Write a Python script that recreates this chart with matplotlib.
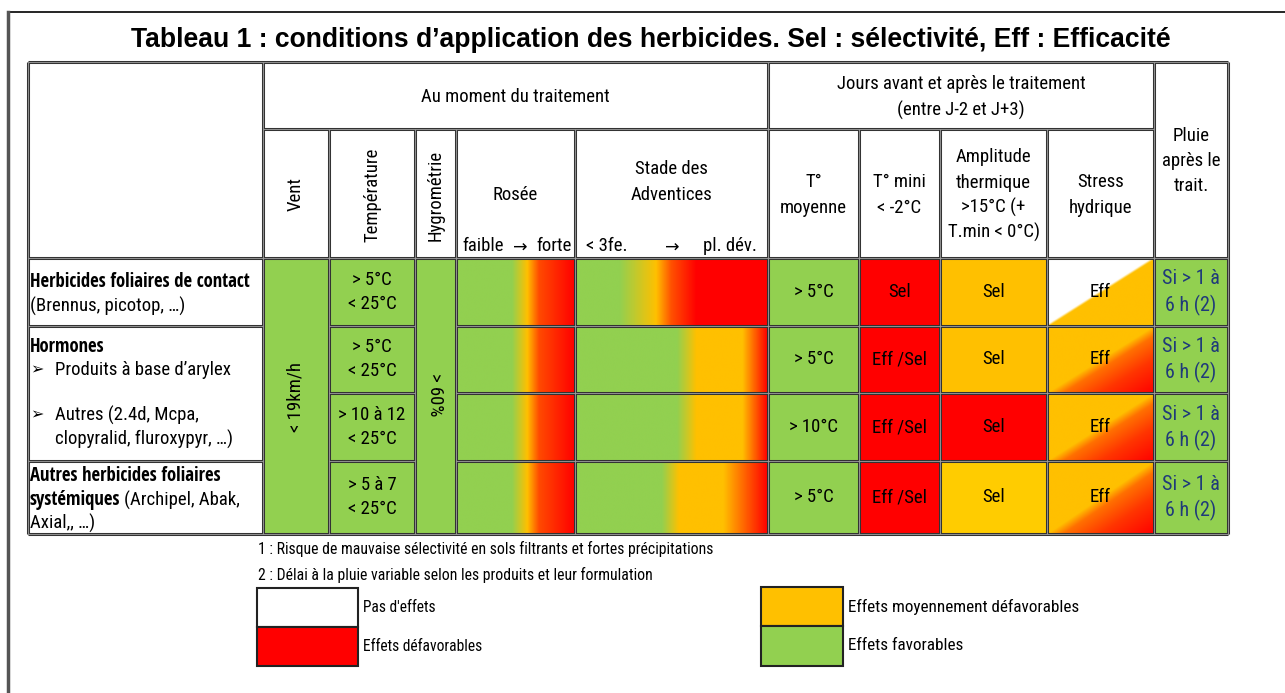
import matplotlib
matplotlib.use('Agg')
import matplotlib.pyplot as plt
import numpy as np
from matplotlib import font_manager
from matplotlib.font_manager import FontProperties
from matplotlib.colors import LinearSegmentedColormap, to_rgb

# police étroite (type Arial Narrow) si on en trouve une
FONTS = font_manager.fontManager.ttflist


def is_bold(f):
    w = f.weight if isinstance(f.weight, int) else {'bold': 700, 'normal': 400, 'regular': 400}.get(f.weight, 400)
    return w >= 600


def narrow_face(bold):
    prefs = ['Liberation Sans Narrow', 'DejaVu Sans Condensed', 'Noto Sans Condensed',
             'Open Sans Condensed', 'Roboto Condensed']
    for p in prefs:
        for f in FONTS:
            if f.name == p and f.style == 'normal' and is_bold(f) == bold:
                return f.fname
    for base in ['DejaVu Sans', 'Noto Sans', 'Liberation Sans', 'Open Sans', 'Roboto']:
        for f in FONTS:
            if f.name == base and f.style == 'normal' and f.stretch in ('condensed', 'semi-condensed') \
                    and is_bold(f) == bold:
                return f.fname
    return None


reg_file, bold_file = narrow_face(False), narrow_face(True)
if reg_file and bold_file:
    REG = FontProperties(fname=reg_file)
    BOLD = FontProperties(fname=bold_file)
    FS = 13.5
else:
    REG = FontProperties(family='Liberation Sans')
    BOLD = FontProperties(family='Liberation Sans', weight='bold')
    FS = 11.5

GREEN = '#92D050'
ORANGE = '#FFC000'
RED = '#FF0000'
GOLD = '#FFCC00'
BLUE_TXT = '#1F3A7A'

# --- données du tableau ---
title = "Tableau 1 : conditions d\u2019application des herbicides. Sel : sélectivité, Eff : Efficacité"
temperature = ['> 5°C\n< 25°C', '> 5°C\n< 25°C', '> 10 à 12\n< 25°C', '> 5 à 7\n< 25°C']
t_moyenne = ['> 5°C', '> 5°C', '> 10°C', '> 5°C']
t_mini_txt = ['Sel', 'Eff /Sel', 'Eff /Sel', 'Eff /Sel']
t_mini_col = [RED, RED, RED, RED]
amplitude_txt = ['Sel', 'Sel', 'Sel', 'Sel']
amplitude_col = [ORANGE, ORANGE, RED, GOLD]
stress_txt = ['Eff', 'Eff', 'Eff', 'Eff']
stress_top = ['white', ORANGE, ORANGE, ORANGE]
stress_bottom = ['flat', 'grad', 'grad', 'grad']
pluie_txt = ['Si > 1 à\n6 h (2)'] * 4
vent_txt = '< 19km/h'
hygro_txt = '> 60%'

# dégradés (position relative, couleur)
rosee_stops = [[(0, GREEN), (0.47, GREEN), (0.60, ORANGE), (0.70, '#FF4A00'), (1, RED)]] * 4
stade_stops = [
    [(0, GREEN), (0.23, GREEN), (0.42, ORANGE), (0.50, '#FF5000'), (0.63, RED), (1, RED)],
    [(0, GREEN), (0.53, GREEN), (0.63, ORANGE), (0.87, ORANGE), (1, RED)],
    [(0, GREEN), (0.53, GREEN), (0.63, ORANGE), (0.87, ORANGE), (1, RED)],
    [(0, GREEN), (0.45, GREEN), (0.54, ORANGE), (0.77, ORANGE), (1, RED)],
]

legend_items = [('white', "Pas d'effets"), (RED, 'Effets défavorables'),
                (ORANGE, 'Effets moyennement défavorables'), (GREEN, 'Effets favorables')]
notes = ['1 : Risque de mauvaise sélectivité en sols filtrants et fortes précipitations',
         '2 : Délai à la pluie variable selon les produits et leur formulation']

# --- géométrie (pixels) ---
cols = [28, 263, 329, 415, 456, 575, 768, 859, 940, 1047, 1154, 1228]
rows = [62, 129, 258, 326, 393, 461, 534]

fig = plt.figure(figsize=(12.85, 6.93), dpi=100)
ax = fig.add_axes([0, 0, 1, 1])
ax.set_xlim(0, 1285)
ax.set_ylim(693, 0)
ax.set_autoscale_on(False)
ax.axis('off')


def T(x, y, s, bold=False, size=None, **kw):
    fp = (BOLD if bold else REG).copy()
    fp.set_size(size or FS)
    kw.setdefault('va', 'center')
    kw.setdefault('zorder', 6)
    return ax.text(x, y, s, fontproperties=fp, **kw)


def rect(x0, y0, x1, y1, color):
    ax.add_patch(plt.Rectangle((x0, y0), x1 - x0, y1 - y0, facecolor=color, edgecolor='none', zorder=1))


def grad_cell(x0, y0, x1, y1, stops):
    cmap = LinearSegmentedColormap.from_list('g', stops)
    g = np.linspace(0, 1, 400)[None, :]
    ax.imshow(g, extent=(x0, x1, y1, y0), cmap=cmap, aspect='auto', interpolation='bilinear', zorder=1)


def diag_cell(x0, y0, x1, y1, top, bottom):
    h, w = 200, 300
    u = np.linspace(0, 1, w)[None, :]
    v = np.linspace(0, 1, h)[:, None]
    s = u + v - 1  # >0 sous la diagonale
    top_rgb = np.array(to_rgb(top))
    if bottom == 'flat':
        bot = np.broadcast_to(np.array(to_rgb(ORANGE)), (h, w, 3))
    else:
        cm = LinearSegmentedColormap.from_list('d', [(0, ORANGE), (0.15, '#FF7000'), (0.5, '#FF3500'), (1, RED)])
        bot = cm(np.clip(s, 0, 1))[..., :3]
    a = np.clip(s / 0.04 + 0.5, 0, 1)[..., None]
    img = top_rgb * (1 - a) + bot * a
    ax.imshow(img, extent=(x0, x1, y1, y0), aspect='auto', interpolation='bilinear', zorder=1)


def hline(y, x0, x1):
    ax.plot([x0, x1], [y, y], color='#333333', lw=2.2, zorder=3, solid_capstyle='butt')
    ax.plot([x0, x1], [y, y], color='#a0a0a0', lw=0.6, zorder=4, solid_capstyle='butt')


def vline(x, y0, y1):
    ax.plot([x, x], [y0, y1], color='#333333', lw=2.2, zorder=3, solid_capstyle='butt')
    ax.plot([x, x], [y0, y1], color='#a0a0a0', lw=0.6, zorder=4, solid_capstyle='butt')


def lines(x, yc, txts, pitch=25, color='black', bold=False, size=None):
    n = len(txts)
    for i, t in enumerate(txts):
        T(x, yc + (i - (n - 1) / 2) * pitch, t, bold=bold, ha='center', color=color, size=size)


# cadre extérieur (haut + gauche)
ax.plot([8, 1285], [12, 12], color='black', lw=1.2)
ax.plot([8, 8], [12, 693], color='#555555', lw=2.5)

ax.text(651, 40, title, ha='center', va='center', fontsize=19.1, fontweight='bold',
        family=['Liberation Sans', 'DejaVu Sans'])

# --- fonds de cellules ---
r0 = rows[2]
rect(cols[1], r0, cols[2], rows[-1], GREEN)   # vent
rect(cols[3], r0, cols[4], rows[-1], GREEN)   # hygro
for i in range(4):
    ya, yb = rows[2 + i], rows[3 + i]
    rect(cols[2], ya, cols[3], yb, GREEN)
    grad_cell(cols[4], ya, cols[5], yb, rosee_stops[i])
    grad_cell(cols[5], ya, cols[6], yb, stade_stops[i])
    rect(cols[6], ya, cols[7], yb, GREEN)
    rect(cols[7], ya, cols[8], yb, t_mini_col[i])
    rect(cols[8], ya, cols[9], yb, amplitude_col[i])
    diag_cell(cols[9], ya, cols[10], yb, stress_top[i], stress_bottom[i])
    rect(cols[10], ya, cols[11], yb, GREEN)

    yc = (ya + yb) / 2
    lines((cols[2] + cols[3]) / 2, yc, temperature[i].split('\n'), pitch=24)
    lines((cols[6] + cols[7]) / 2, yc, [t_moyenne[i]])
    lines((cols[7] + cols[8]) / 2, yc, [t_mini_txt[i]])
    lines((cols[8] + cols[9]) / 2, yc, [amplitude_txt[i]])
    lines((cols[9] + cols[10]) / 2, yc, [stress_txt[i]])
    lines((cols[10] + cols[11]) / 2, yc, pluie_txt[i].split('\n'), pitch=26, color=BLUE_TXT, size=FS + 1)

T((cols[1] + cols[2]) / 2, 397, vent_txt, rotation=90, ha='center')
T((cols[3] + cols[4]) / 2, 395, hygro_txt, rotation=-90, ha='center')

# --- en-têtes ---
lines((cols[1] + cols[6]) / 2, 97, ['Au moment du traitement'])
lines((cols[6] + cols[10]) / 2, 97, ['Jours avant et après le traitement', '(entre J-2 et J+3)'], pitch=26)
lines((cols[10] + cols[11]) / 2, 161, ['Pluie', 'après le', 'trait.'], pitch=25)
T((cols[1] + cols[2]) / 2, 194, 'Vent', rotation=90, ha='center')
T((cols[2] + cols[3]) / 2, 195, 'Température', rotation=90, ha='center')
T((cols[3] + cols[4]) / 2, 195, 'Hygrométrie', rotation=90, ha='center')
lines((cols[4] + cols[5]) / 2, 195, ['Rosée'])
T(462, 246, 'faible', ha='left')
ax.text(520, 248, '\u2192', ha='center', va='center', fontsize=FS - 1, family='DejaVu Sans')
T(572, 246, 'forte', ha='right')
T(586, 246, '< 3fe.', ha='left')
ax.text(672, 248, '\u2192', ha='center', va='center', fontsize=FS - 1, family='DejaVu Sans')
T(757, 246, 'pl. dév.', ha='right')
lines((cols[5] + cols[6]) / 2, 182, ['Stade des', 'Adventices'], pitch=26)
lines((cols[6] + cols[7]) / 2, 195, ['T°', 'moyenne'], pitch=26)
lines((cols[7] + cols[8]) / 2, 195, ['T° mini', '< -2°C'], pitch=26)
lines((cols[8] + cols[9]) / 2, 195, ['Amplitude', 'thermique', '>15°C (+', 'T.min < 0°C)'], pitch=25)
lines((cols[9] + cols[10]) / 2, 195, ['Stress', 'hydrique'], pitch=26)

# --- libellés de lignes ---
T(30, 282, 'Herbicides foliaires de contact', bold=True)
T(30, 306, '(Brennus, picotop, …)')
T(30, 347, 'Hormones', bold=True)
ax.text(30, 370, '➢', fontsize=FS - 2, va='center', family='DejaVu Sans')
T(55, 370, 'Produits à base d\u2019arylex')
ax.text(30, 415, '➢', fontsize=FS - 2, va='center', family='DejaVu Sans')
T(55, 415, 'Autres (2.4d, Mcpa,')
T(55, 439, 'clopyralid, fluroxypyr, …)')
T(30, 476, 'Autres herbicides foliaires', bold=True)
tb = T(30, 500, 'systémiques', bold=True)
fig.canvas.draw()
bb = tb.get_window_extent(fig.canvas.get_renderer())
xd = ax.transData.inverted().transform((bb.x1, 0))[0]
T(xd + 4, 500, '(Archipel, Abak,')
T(30, 523, 'Axial,, …)')

# --- traits du tableau ---
x0, x1 = cols[0], cols[-1]
hline(rows[0], x0, x1)
hline(rows[1], cols[1], cols[10])
hline(rows[2], x0, x1)
for y in (rows[3], rows[5]):
    hline(y, x0, cols[1])
    hline(y, cols[2], cols[3])
    hline(y, cols[4], x1)
hline(rows[4], cols[2], cols[3])
hline(rows[4], cols[4], x1)
hline(rows[-1], x0, x1)
for x in (cols[0], cols[1], cols[6], cols[10], cols[11]):
    vline(x, rows[0], rows[-1])
for x in (cols[2], cols[3], cols[4], cols[5], cols[7], cols[8], cols[9]):
    vline(x, rows[1], rows[-1])

# --- notes et légende ---
T(258, 549, notes[0], size=11.3)
T(258, 575, notes[1], size=11.3)
boxes = [(257, 588, 358, 627), (257, 627, 358, 666), (761, 587, 843, 626), (761, 626, 843, 666)]
label_sizes = [11.2, 11.2, 12.3, 12.3]
for (c, lab), (bx0, by0, bx1, by1), fsz in zip(legend_items, boxes, label_sizes):
    ax.add_patch(plt.Rectangle((bx0, by0), bx1 - bx0, by1 - by0, facecolor=c, edgecolor='#222222', lw=1.5, zorder=2))
    T(bx1 + 5, (by0 + by1) / 2, lab, size=fsz)

fig.savefig('out.png', dpi=100)
